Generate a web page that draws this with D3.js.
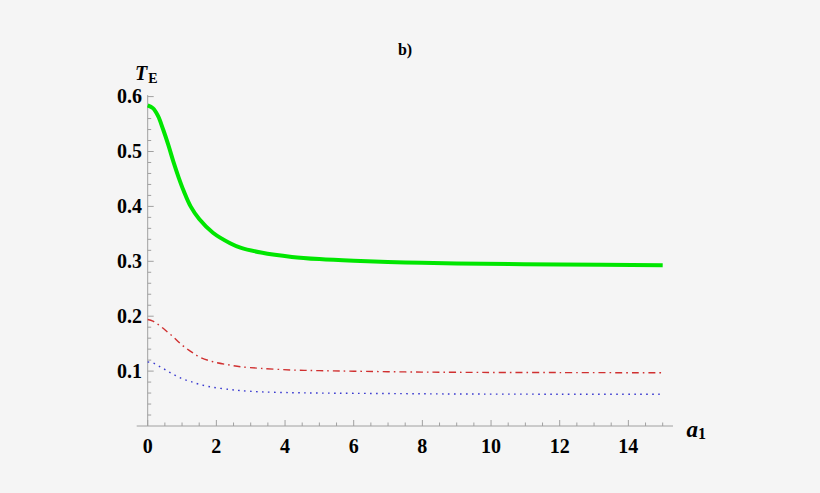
<!DOCTYPE html>
<html>
<head>
<meta charset="utf-8">
<script src="https://cdn.jsdelivr.net/npm/d3@7"></script>
<style>
  html, body { margin: 0; padding: 0; background: #f5f5f5; }
  svg { display: block; }
</style>
</head>
<body>
<div id="chart"></div>
<script>
// values
const aVals = [0, 0.15, 0.3, 0.45, 0.6, 0.75, 0.9, 1.05, 1.25, 1.5, 1.9, 2.4, 2.7, 3.3, 4.2, 5, 6, 7.5, 9, 12, 15];
const greenT = [0.584, 0.579, 0.565, 0.54, 0.512, 0.481, 0.453, 0.428, 0.40, 0.377, 0.352, 0.333, 0.325, 0.316, 0.308, 0.304, 0.301, 0.298, 0.296, 0.294, 0.293];
const redT = [0.194, 0.191, 0.185, 0.178, 0.17, 0.162, 0.153, 0.145, 0.136, 0.126, 0.117, 0.111, 0.108, 0.105, 0.102, 0.1008, 0.0998, 0.0985, 0.0978, 0.0973, 0.097];
const blueT = [0.1166, 0.115, 0.11, 0.105, 0.099, 0.094, 0.089, 0.085, 0.081, 0.076, 0.0705, 0.0665, 0.0645, 0.0622, 0.0607, 0.06, 0.0595, 0.0589, 0.0583, 0.0579, 0.0577];
const xTicks = [0, 2, 4, 6, 8, 10, 12, 14];
const yTicks = [0.1, 0.2, 0.3, 0.4, 0.5, 0.6];

const width = 820, height = 493;
const font = "'Liberation Serif', 'Times New Roman', serif";

const x = d3.scaleLinear().domain([0, 15]).range([147.7, 662.7]);
const y = d3.scaleLinear().domain([0, 0.6]).range([426, 96.6]);

const svg = d3.select("#chart").append("svg")
    .attr("width", width)
    .attr("height", height)
    .attr("viewBox", [0, 0, width, height]);

svg.append("rect").attr("width", width).attr("height", height).attr("fill", "#f5f5f5");

const axisColor = "#a0a0a0";

// x axis line, a bit past both ends like mathematica does
svg.append("line")
    .attr("x1", x(-0.32)).attr("x2", x(15.3))
    .attr("y1", y(0)).attr("y2", y(0))
    .attr("stroke", axisColor).attr("stroke-width", 1);

svg.append("line")
    .attr("x1", x(0)).attr("x2", x(0))
    .attr("y1", y(0)).attr("y2", y(0.6) - 1.5)
    .attr("stroke", axisColor).attr("stroke-width", 1);

// x ticks: majors every 2, minors every 0.5
const xMinor = d3.range(0, 15.01, 0.5);
svg.append("g").selectAll("line")
    .data(xMinor)
    .join("line")
    .attr("x1", d => x(d)).attr("x2", d => x(d))
    .attr("y1", y(0))
    .attr("y2", d => y(0) - (d % 2 === 0 ? 6 : 3.5))
    .attr("stroke", axisColor);

const yMinor = d3.range(0.02, 0.601, 0.02);
svg.append("g").selectAll("line")
    .data(yMinor)
    .join("line")
    .attr("x1", x(0))
    .attr("x2", d => x(0) + (Math.abs(d * 10 - Math.round(d * 10)) < 1e-6 ? 6 : 3.5))
    .attr("y1", d => y(d)).attr("y2", d => y(d))
    .attr("stroke", axisColor);

svg.append("g").selectAll("text")
    .data(xTicks)
    .join("text")
    .attr("x", d => x(d))
    .attr("y", 452.7)
    .attr("text-anchor", "middle")
    .attr("font-family", font)
    .attr("font-weight", "bold")
    .attr("font-size", 20)
    .attr("fill", "#000")
    .text(d => d);

svg.append("g").selectAll("text")
    .data(yTicks)
    .join("text")
    .attr("x", 142)
    .attr("y", d => y(d))
    .attr("dy", "0.34em")
    .attr("text-anchor", "end")
    .attr("font-family", font)
    .attr("font-weight", "bold")
    .attr("font-size", 20)
    .attr("fill", "#000")
    .text(d => d.toFixed(1));

// curves
const line = d3.line()
    .x((d, i) => x(aVals[i]))
    .y(d => y(d))
    .curve(d3.curveCatmullRom.alpha(0.5));

svg.append("path")
    .attr("d", line(blueT))
    .attr("fill", "none")
    .attr("stroke", "#3a3ad0")
    .attr("stroke-width", 1.4)
    .attr("stroke-dasharray", "1.6,4.4");

svg.append("path")
    .attr("d", line(redT))
    .attr("fill", "none")
    .attr("stroke", "#d03030")
    .attr("stroke-width", 1.4)
    .attr("stroke-dasharray", "7,4,1.6,4");

svg.append("path")
    .attr("d", line(greenT))
    .attr("fill", "none")
    .attr("stroke", "#00e600")
    .attr("stroke-width", 4);

// title and axis labels
svg.append("text")
    .attr("x", 405).attr("y", 55)
    .attr("text-anchor", "middle")
    .attr("font-family", font)
    .attr("font-weight", "bold")
    .attr("font-size", 16)
    .text("b)");

const yl = svg.append("text")
    .attr("x", 135).attr("y", 79.5)
    .attr("font-family", font)
    .attr("font-weight", "bold")
    .attr("font-size", 20);
yl.append("tspan").attr("font-style", "italic").text("T");
yl.append("tspan").attr("font-size", 14).attr("dy", 3.5).attr("dx", 1).text("E");

const xl = svg.append("text")
    .attr("x", 686.5).attr("y", 436.7)
    .attr("font-family", font)
    .attr("font-weight", "bold")
    .attr("font-size", 23);
xl.append("tspan").attr("font-style", "italic").text("a");
xl.append("tspan").attr("font-size", 16).attr("dy", 2).text("1");
</script>
</body>
</html>
